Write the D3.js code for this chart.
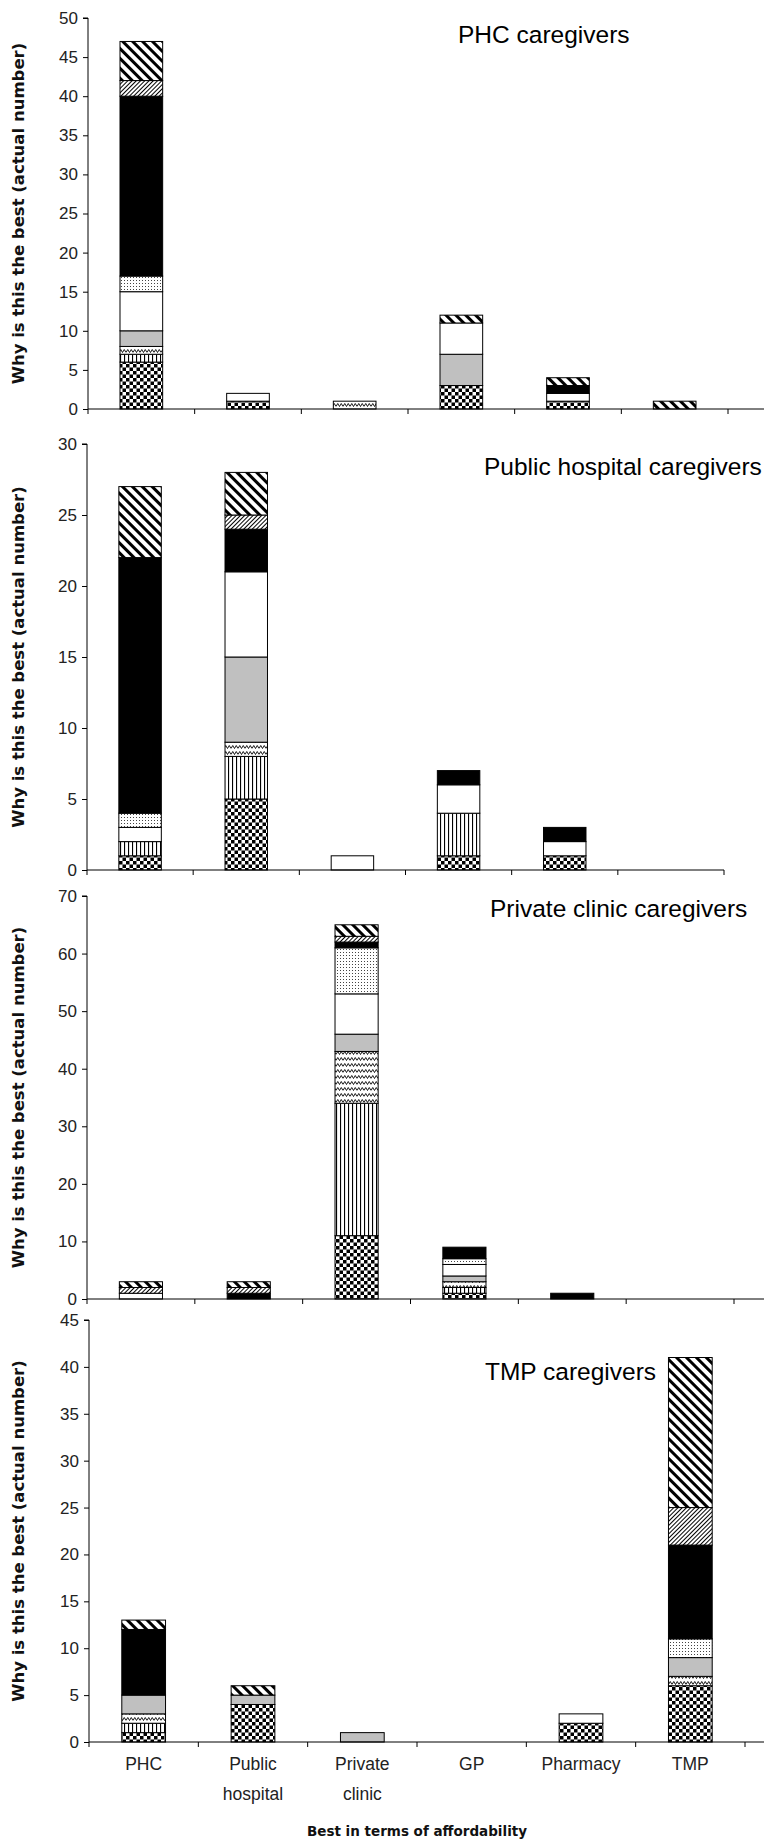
<!DOCTYPE html>
<html>
<head>
<meta charset="utf-8">
<script src="https://cdn.jsdelivr.net/npm/d3@7"></script>
<style>
  html, body { margin: 0; padding: 0; background: #fff; }
  svg { display: block; }
  .tick text { font-family: "Liberation Sans", Arial, sans-serif; }
</style>
</head>
<body>
<svg id="chart" width="766" height="1843"></svg>
<script>
// Facilities respondents rated best in terms of affordability
const categories = ["PHC", "Public hospital", "Private clinic", "GP", "Pharmacy", "TMP"];
const categoryLines = [["PHC"], ["Public", "hospital"], ["Private", "clinic"], ["GP"], ["Pharmacy"], ["TMP"]];

// Reasons given, stacked bottom to top; each is drawn with its own fill pattern
const reasons = ["checker", "vertical", "zigzag", "gray", "white", "dotted", "black", "thinHatch", "thickHatch"];

// Counts per facility, in the order of `reasons`
const phcValues = [
  [6, 1, 1, 2, 5, 2, 23, 2, 5],
  [1, 0, 0, 0, 1, 0, 0, 0, 0],
  [0, 0, 1, 0, 0, 0, 0, 0, 0],
  [3, 0, 0, 4, 4, 0, 0, 0, 1],
  [1, 0, 0, 0, 1, 0, 1, 0, 1],
  [0, 0, 0, 0, 0, 0, 0, 0, 1]
];
const publicHospitalValues = [
  [1, 1, 0, 0, 1, 1, 18, 0, 5],
  [5, 3, 1, 6, 6, 0, 3, 1, 3],
  [0, 0, 0, 0, 1, 0, 0, 0, 0],
  [1, 3, 0, 0, 2, 0, 1, 0, 0],
  [1, 0, 0, 0, 1, 0, 1, 0, 0],
  [0, 0, 0, 0, 0, 0, 0, 0, 0]
];
const privateClinicValues = [
  [0, 0, 0, 0, 1, 0, 0, 1, 1],
  [0, 0, 0, 0, 0, 0, 1, 1, 1],
  [11, 23, 9, 3, 7, 8, 1, 1, 2],
  [1, 1, 1, 1, 2, 1, 2, 0, 0],
  [0, 0, 0, 0, 0, 0, 1, 0, 0],
  [0, 0, 0, 0, 0, 0, 0, 0, 0]
];
const tmpValues = [
  [1, 1, 1, 2, 0, 0, 7, 0, 1],
  [4, 0, 0, 1, 0, 0, 0, 0, 1],
  [0, 0, 0, 1, 0, 0, 0, 0, 0],
  [0, 0, 0, 0, 0, 0, 0, 0, 0],
  [2, 0, 0, 0, 1, 0, 0, 0, 0],
  [6, 0, 1, 2, 0, 2, 10, 4, 16]
];

const panelTitles = ["PHC caregivers", "Public hospital caregivers", "Private clinic caregivers", "TMP caregivers"];
const yMaxima = [50, 30, 70, 45];
const yTickSteps = [5, 5, 10, 5];

// Layout of each panel
const panels = [
  { values: phcValues,            top: 18,   bottom: 409,  left: 88, right: 728, axisEnd: 764, titleX: 458, titleY: 43 },
  { values: publicHospitalValues, top: 444,  bottom: 870,  left: 87, right: 724, axisEnd: 724, titleX: 484, titleY: 475 },
  { values: privateClinicValues,  top: 896,  bottom: 1299, left: 87, right: 734, axisEnd: 764, titleX: 490, titleY: 917 },
  { values: tmpValues,            top: 1320, bottom: 1742, left: 89, right: 745, axisEnd: 764, titleX: 485, titleY: 1380 }
];

const svg = d3.select("#chart");
const defs = svg.append("defs");

// Fill patterns
function pattern(id, w, h, transform) {
  const p = defs.append("pattern").attr("id", id)
    .attr("patternUnits", "userSpaceOnUse").attr("width", w).attr("height", h);
  if (transform) p.attr("patternTransform", transform);
  p.append("rect").attr("width", w).attr("height", h).attr("fill", "#fff");
  return p;
}
{
  const p = pattern("p-checker", 7, 7);
  p.append("rect").attr("width", 3.5).attr("height", 3.5).attr("fill", "#000");
  p.append("rect").attr("x", 3.5).attr("y", 3.5).attr("width", 3.5).attr("height", 3.5).attr("fill", "#000");
}
{
  const p = pattern("p-vertical", 4, 4);
  p.append("rect").attr("x", 0).attr("width", 1.1).attr("height", 4).attr("fill", "#000");
}
{
  const p = pattern("p-zigzag", 7, 6);
  p.append("path").attr("d", "M0,4.5 L1.75,1.5 L3.5,4.5 L5.25,1.5 L7,4.5").attr("fill", "none")
    .attr("stroke", "#000").attr("stroke-width", 0.9);
}
{
  const p = pattern("p-dotted", 3, 3);
  p.append("rect").attr("x", 1).attr("y", 1).attr("width", 1).attr("height", 1).attr("fill", "#444");
}
{
  const p = pattern("p-thinHatch", 3, 3, "rotate(45)");
  p.append("rect").attr("width", 1).attr("height", 3).attr("fill", "#000");
}
{
  const p = pattern("p-thickHatch", 7, 7, "rotate(-45)");
  p.append("rect").attr("width", 3).attr("height", 7).attr("fill", "#000");
}

const fills = {
  checker: "url(#p-checker)",
  vertical: "url(#p-vertical)",
  zigzag: "url(#p-zigzag)",
  gray: "#c0c0c0",
  white: "#ffffff",
  dotted: "url(#p-dotted)",
  black: "#000000",
  thinHatch: "url(#p-thinHatch)",
  thickHatch: "url(#p-thickHatch)"
};

const stack = d3.stack().keys(reasons.map((_, i) => i));

panels.forEach((pn, pi) => {
  const g = svg.append("g");
  const x = d3.scaleBand().domain(categories).range([pn.left, pn.right]).paddingInner(0.6).paddingOuter(0.3);
  const y = d3.scaleLinear().domain([0, yMaxima[pi]]).range([pn.bottom, pn.top]);

  const rows = pn.values.map((v, ci) => Object.assign({ category: categories[ci] }, v));
  const series = stack(rows);

  series.forEach((s, si) => {
    g.append("g")
      .selectAll("rect")
      .data(s.filter(d => d[1] > d[0]))
      .join("rect")
      .attr("x", d => x(d.data.category))
      .attr("width", x.bandwidth())
      .attr("y", d => y(d[1]))
      .attr("height", d => y(d[0]) - y(d[1]))
      .attr("fill", fills[reasons[si]])
      .attr("stroke", "#000")
      .attr("stroke-width", 1);
  });

  // Y axis
  const yAxis = d3.axisLeft(y)
    .tickValues(d3.range(0, yMaxima[pi] + 1, yTickSteps[pi]))
    .tickSize(5).tickPadding(5);
  const ya = g.append("g").attr("transform", `translate(${pn.left},0)`).call(yAxis);
  ya.select(".domain").attr("d", `M-5,${pn.top}H0V${pn.bottom}`).attr("stroke", "#000");
  ya.selectAll(".tick line").attr("stroke", "#000");
  ya.selectAll(".tick text").attr("font-size", 17).attr("fill", "#222");

  // X axis baseline with ticks between categories
  const xa = g.append("g");
  xa.append("line").attr("x1", pn.left).attr("x2", pn.axisEnd)
    .attr("y1", pn.bottom).attr("y2", pn.bottom).attr("stroke", "#000");
  const step = x.step();
  const bounds = categories.map((c, i) => x(c) - x.paddingInner() * step / 2 + step).concat([pn.left]);
  xa.selectAll("line.tk").data(bounds).join("line").attr("class", "tk")
    .attr("x1", d => d).attr("x2", d => d)
    .attr("y1", pn.bottom).attr("y2", pn.bottom + 5).attr("stroke", "#000");

  // Y axis title
  const midY = (pn.top + pn.bottom) / 2;
  g.append("text")
    .attr("transform", `translate(24,${midY}) rotate(-90)`)
    .attr("text-anchor", "middle")
    .attr("font-family", "'DejaVu Sans', Verdana, sans-serif")
    .attr("font-weight", "bold")
    .attr("font-size", 16.5)
    .attr("fill", "#111")
    .text("Why is this the best (actual number)");

  // Panel title
  g.append("text")
    .attr("x", pn.titleX).attr("y", pn.titleY)
    .attr("font-family", "'Liberation Sans', Arial, sans-serif")
    .attr("font-size", 24.5)
    .attr("fill", "#000")
    .text(panelTitles[pi]);

  // Category labels on the bottom panel only
  if (pi === panels.length - 1) {
    const lab = g.append("g");
    categories.forEach((c, ci) => {
      const t = lab.append("text")
        .attr("x", x(c) + x.bandwidth() / 2)
        .attr("y", pn.bottom + 28)
        .attr("text-anchor", "middle")
        .attr("font-family", "'Liberation Sans', Arial, sans-serif")
        .attr("font-size", 17.5)
        .attr("fill", "#222");
      categoryLines[ci].forEach((ln, li) => {
        t.append("tspan").attr("x", x(c) + x.bandwidth() / 2).attr("dy", li === 0 ? 0 : 30).text(ln);
      });
    });
    g.append("text")
      .attr("x", (pn.left + pn.right) / 2)
      .attr("y", 1836)
      .attr("text-anchor", "middle")
      .attr("font-family", "'DejaVu Sans', Verdana, sans-serif")
      .attr("font-weight", "bold")
      .attr("font-size", 13.5)
      .attr("fill", "#111")
      .text("Best in terms of affordability");
  }
});
</script>
</body>
</html>
